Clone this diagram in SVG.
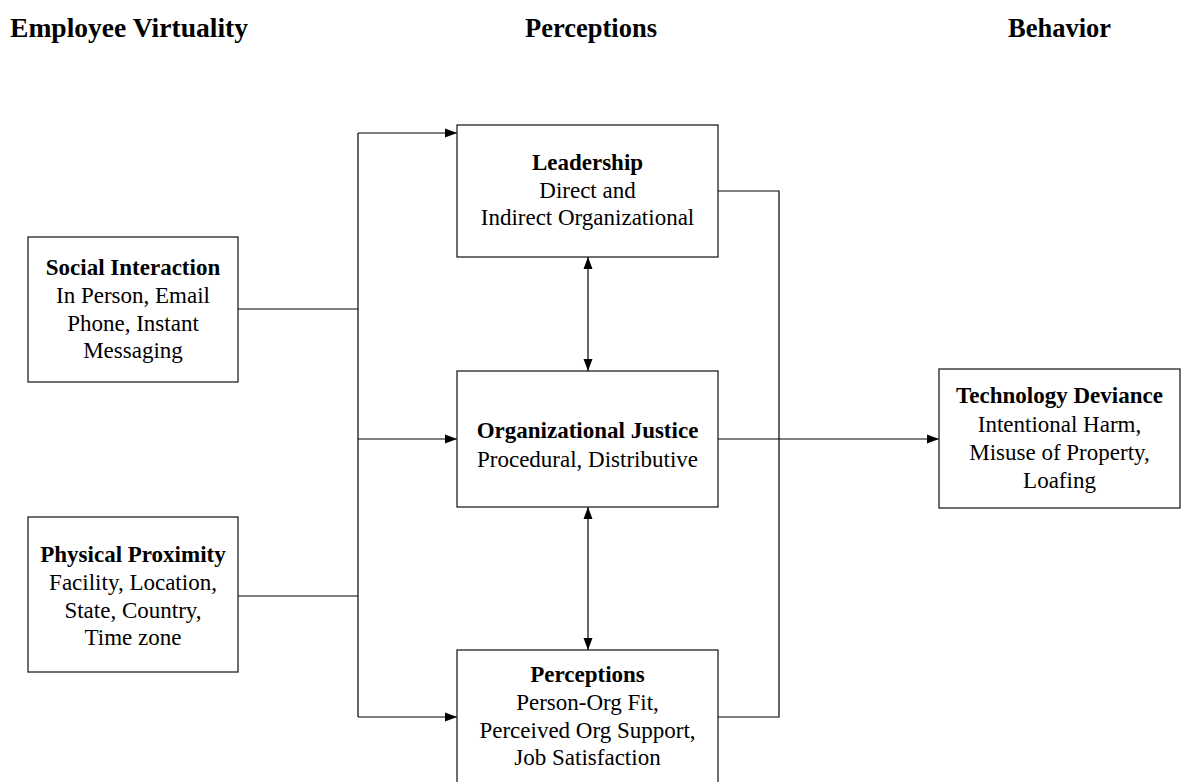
<svg xmlns="http://www.w3.org/2000/svg" width="1183" height="782" viewBox="0 0 1183 782">
<defs>
<style>
.box{fill:#fff;stroke:#222;stroke-width:1.3}
.ln{fill:none;stroke:#000;stroke-width:1.2}
text{font-family:"Liberation Serif","Times New Roman",serif;font-size:23px;fill:#000;text-anchor:middle}
.b{font-weight:bold}
.h{font-weight:bold;font-size:26.5px;text-anchor:start}
</style>
<marker id="ah" viewBox="0 0 12 10" refX="12" refY="5" markerWidth="12" markerHeight="10" markerUnits="userSpaceOnUse" orient="auto-start-reverse">
<path d="M0,0.5 L12,5 L0,9.5 Z" fill="#000"/>
</marker>
</defs>
<rect width="1183" height="782" fill="#fff"/>
<g id="headers">
<text class="h" x="10" y="37" textLength="238" lengthAdjust="spacingAndGlyphs">Employee Virtuality</text>
<text class="h" x="525" y="37">Perceptions</text>
<text class="h" x="1008" y="37">Behavior</text>
</g>
<g id="connectors">
<path class="ln" d="M238,309 H358"/>
<path class="ln" d="M238,596 H358"/>
<path class="ln" d="M358,133 V717"/>
<path class="ln" d="M358,133 H457" marker-end="url(#ah)"/>
<path class="ln" d="M358,439 H457" marker-end="url(#ah)"/>
<path class="ln" d="M358,717 H457" marker-end="url(#ah)"/>
<path class="ln" d="M588,257 V371" marker-start="url(#ah)" marker-end="url(#ah)"/>
<path class="ln" d="M588,507 V650" marker-start="url(#ah)" marker-end="url(#ah)"/>
<path class="ln" d="M718,191 H779 V717 H718"/>
<path class="ln" d="M718,439 H939" marker-end="url(#ah)"/>
</g>
<g id="social">
<rect class="box" x="28" y="237" width="210" height="145"/>
<text x="133" y="275" class="b">Social Interaction</text>
<text x="133" y="303">In Person, Email</text>
<text x="133" y="331">Phone, Instant</text>
<text x="133" y="358">Messaging</text>
</g>
<g id="physical">
<rect class="box" x="28" y="517" width="210" height="155"/>
<text x="133" y="562" class="b">Physical Proximity</text>
<text x="133" y="590">Facility, Location,</text>
<text x="133" y="618">State, Country,</text>
<text x="133" y="645">Time zone</text>
</g>
<g id="leadership">
<rect class="box" x="457" y="125" width="261" height="132"/>
<text x="587.5" y="170" class="b">Leadership</text>
<text x="587.5" y="198">Direct and</text>
<text x="587.5" y="225">Indirect Organizational</text>
</g>
<g id="justice">
<rect class="box" x="457" y="371" width="261" height="136"/>
<text x="587.5" y="438" class="b">Organizational Justice</text>
<text x="587.5" y="467">Procedural, Distributive</text>
</g>
<g id="perceptions">
<rect class="box" x="457" y="650" width="261" height="140"/>
<text x="587.5" y="682" class="b">Perceptions</text>
<text x="587.5" y="710">Person-Org Fit,</text>
<text x="587.5" y="738">Perceived Org Support,</text>
<text x="587.5" y="765">Job Satisfaction</text>
</g>
<g id="deviance">
<rect class="box" x="939" y="369" width="241" height="139"/>
<text x="1059.5" y="403" class="b">Technology Deviance</text>
<text x="1059.5" y="432">Intentional Harm,</text>
<text x="1059.5" y="460">Misuse of Property,</text>
<text x="1059.5" y="488">Loafing</text>
</g>
</svg>
